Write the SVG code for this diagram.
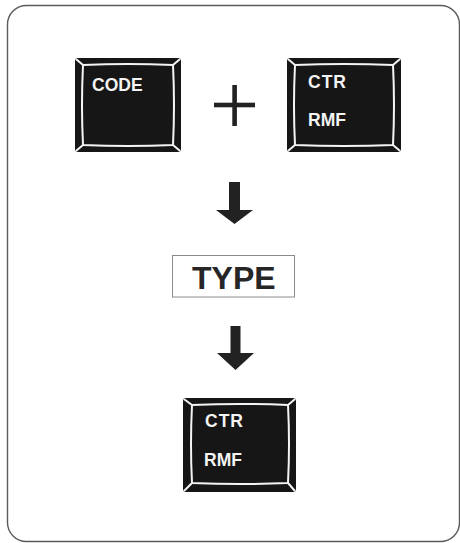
<svg xmlns="http://www.w3.org/2000/svg" width="460" height="543" viewBox="0 0 460 543">
<style>
.frame{fill:#fff;stroke:#5a5a5a;stroke-width:1.4}
.key{fill:#161616}
.face{fill:#161616;stroke:#f4f4f4;stroke-width:2;stroke-linejoin:round}
.bevel{stroke:#f4f4f4;stroke-width:2;stroke-linecap:round}
.klabel{font-family:"Liberation Sans",Arial,sans-serif;font-weight:bold;font-size:17.5px;fill:#f4f4f4}
.arrow{fill:#222}
.typebox{fill:#fff;stroke:#8a8a8a;stroke-width:1}
.typelabel{font-family:"Liberation Sans",Arial,sans-serif;font-weight:bold;font-size:32px;fill:#262626}
</style>
<rect class="frame" x="7.5" y="5.5" width="452" height="536" rx="19"/>

<g id="key-code">
<rect class="key" x="75" y="58" width="106" height="94" rx="3"/>
<path class="face" d="M83,65 Q128,63 173,65 Q175,105 173,145 Q128,147 83,145 Q81,105 83,65 Z"/>
<path class="bevel" d="M76.5,59.5 L83,65 M179.5,59.5 L173,65 M76.5,150.5 L83,145 M179.5,150.5 L173,145"/>
<text class="klabel" x="92" y="91" font-size="18">CODE</text>
</g>

<g id="plus">
<rect class="arrow" x="232.3" y="85" width="4.6" height="41"/>
<rect class="arrow" x="214" y="102.7" width="41" height="4.6"/>
</g>

<g id="key-ctr-rmf">
<rect class="key" x="287" y="58" width="114" height="94" rx="3"/>
<path class="face" d="M295,65 Q344,63 393,65 Q395,105 393,145 Q344,147 295,145 Q293,105 295,65 Z"/>
<path class="bevel" d="M288.5,59.5 L295,65 M399.5,59.5 L393,65 M288.5,150.5 L295,145 M399.5,150.5 L393,145"/>
<text class="klabel" x="308" y="88" letter-spacing="1">CTR</text>
<text class="klabel" x="308" y="126">RMF</text>
</g>

<g id="type">
<rect class="typebox" x="172.5" y="255.5" width="122" height="41.5"/>
<text class="typelabel" x="192" y="289">TYPE</text>
</g>

<g id="key-result">
<rect class="key" x="183" y="398" width="113" height="94" rx="3"/>
<path class="face" d="M192,405 Q240,403 288,405 Q290,444 288,483 Q240,485 192,483 Q190,444 192,405 Z"/>
<path class="bevel" d="M184.5,399.5 L192,405 M294.5,399.5 L288,405 M184.5,490.5 L192,483 M294.5,490.5 L288,483"/>
<text class="klabel" x="205" y="427" letter-spacing="1">CTR</text>
<text class="klabel" x="204" y="466">RMF</text>
</g>

<g id="connectors">
<polygon class="arrow" points="229,182 240,182 240,210 253,210 234.5,224 216,210 229,210"/>
<polygon class="arrow" points="230.5,326 240.5,326 240.5,353 254,353 235.5,370 217,353 230.5,353"/>
</g>
</svg>
